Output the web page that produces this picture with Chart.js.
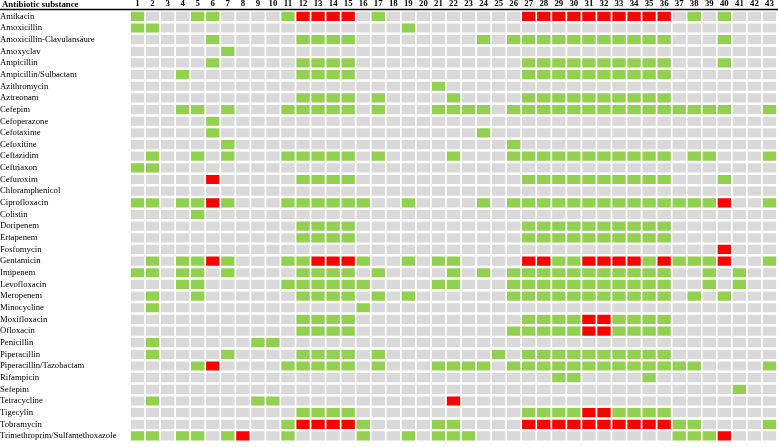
<!DOCTYPE html>
<html>
<head>
<meta charset="utf-8">
<script src="https://cdn.jsdelivr.net/npm/chart.js@4/dist/chart.umd.min.js"></script>
<style>
  html, body { margin: 0; padding: 0; background: #ffffff; }
  #wrap { width: 778px; height: 447px; position: relative; }
</style>
</head>
<body>
<div id="wrap"><canvas id="c" width="778" height="447"></canvas></div>
<script>
const headerTitle = 'Antibiotic substance';

const substances = [
  'Amikacin', 'Amoxicillin', 'Amoxicillin-Clavulansäure', 'Amoxyclav', 'Ampicillin',
  'Ampicillin/Sulbactam', 'Azithromycin', 'Aztreonam', 'Cefepim', 'Cefoperazone',
  'Cefotaxime', 'Cefoxitine', 'Ceftazidim', 'Ceftriaxon', 'Cefuroxim',
  'Chloramphenicol', 'Ciprofloxacin', 'Colistin', 'Doripenem', 'Ertapenem',
  'Fosfomycin', 'Gentamicin', 'Imipenem', 'Levofloxacin', 'Meropenem',
  'Minocycline', 'Moxifloxacin', 'Ofloxacin', 'Penicillin', 'Piperacillin',
  'Piperacillin/Tazobactam', 'Rifampicin', 'Sefepim', 'Tetracycline', 'Tigecylin',
  'Tobramycin', 'Trimethroprim/Sulfamethoxazole'
];

const columnLabels = ['1','2','3','4','5','6','7','8','9','10','11','12','13','14','15',
  '16','17','18','19','20','21','22','23','24','25','26','27','28','29','30',
  '31','32','33','34','35','36','37','38','39','40','41','42','43'];

// one string per substance, one character per column:
// '.' = grey cell, 'g' = green cell, 'r' = red cell ('|' separates groups of five columns)
const cellStatus = [
  'g...g|g....|grrrr|.g...|.....|.rrrr|rrrrr|r.g.g|...', // Amikacin
  'gg...|.....|.....|...g.|.....|.....|.....|.....|...', // Amoxicillin
  '.....|g....|.gggg|.....|...g.|ggggg|ggggg|g...g|...', // Amoxicillin-Clavulansäure
  '.....|.g...|.....|.....|.....|.....|.....|.....|...', // Amoxyclav
  '.....|g....|.gggg|.....|.....|.gggg|ggggg|g...g|...', // Ampicillin
  '...g.|.....|.gggg|.....|.....|.gggg|ggggg|g....|...', // Ampicillin/Sulbactam
  '.....|.....|.....|.....|g....|.....|.....|.....|...', // Azithromycin
  '.....|.....|.gggg|.g...|.g...|.gggg|ggggg|g....|...', // Aztreonam
  '...gg|.g...|ggggg|.g...|gggg.|ggggg|ggggg|ggggg|..g', // Cefepim
  '.....|g....|.....|.....|.....|.....|.....|.....|...', // Cefoperazone
  '.....|g....|.....|.....|...g.|.....|.....|.....|...', // Cefotaxime
  '.....|.g...|.....|.....|.....|g....|.....|.....|...', // Cefoxitine
  '.g..g|.g...|ggggg|.g...|.g...|ggggg|ggggg|g.gg.|..g', // Ceftazidim
  'gg...|.....|.....|.....|.....|.....|.....|.....|...', // Ceftriaxon
  '.....|r....|.gggg|.....|.....|.gggg|ggggg|g...g|...', // Cefuroxim
  '.....|.....|.....|.....|.....|.....|.....|.....|...', // Chloramphenicol
  'gg.gg|rg...|ggggg|g..g.|...g.|ggggg|ggggg|ggggr|..g', // Ciprofloxacin
  '....g|.....|.....|.....|.....|.....|.....|.....|...', // Colistin
  '.....|.....|.gggg|.....|.....|.gggg|ggggg|g....|...', // Doripenem
  '.....|.....|.gggg|.....|.....|.gggg|ggggg|g....|...', // Ertapenem
  '.....|.....|.....|.....|.....|.....|.....|....r|...', // Fosfomycin
  '.g.gg|rg...|ggrrr|g..g.|gg...|.rrgg|rrrrg|rgggr|..g', // Gentamicin
  'gg.gg|.g...|.gggg|.g...|.g.g.|ggggg|ggggg|g..g.|g..', // Imipenem
  '...gg|.....|ggggg|g....|gg...|ggggg|ggggg|g..g.|g..', // Levofloxacin
  '.g..g|.....|.gggg|.g.g.|.....|ggggg|ggggg|g.g.g|...', // Meropenem
  '.g...|.....|.....|g....|.....|.....|.....|.....|...', // Minocycline
  '.....|.....|.gggg|.....|.....|.gggg|rrggg|g....|...', // Moxifloxacin
  '.....|.....|.gggg|.....|.....|ggggg|rrggg|g....|...', // Ofloxacin
  '.g...|...gg|.....|.....|.....|.....|.....|.....|...', // Penicillin
  '.g...|.g...|.gggg|.g...|....g|.gggg|ggggg|g....|...', // Piperacillin
  '....g|r....|ggggg|.g...|gggg.|ggggg|ggggg|ggg..|..g', // Piperacillin/Tazobactam
  '.....|.....|.....|.....|.....|...gg|....g|.....|...', // Rifampicin
  '.....|.....|.....|.....|.....|.....|.....|.....|g..', // Sefepim
  '.g...|...gg|.....|.....|.r...|.....|.....|.....|...', // Tetracycline
  '.....|.....|.gggg|.....|.....|.gggg|rrggg|g....|...', // Tigecylin
  '.....|.....|grrrr|g....|gg...|.rrrr|rrrrr|rgg..|..g', // Tobramycin
  'gg.gg|.gr..|g....|g..g.|ggg..|.....|.....|.gggr|...'  // Trimethroprim/Sulfamethoxazole
];

const statusColors = { '.': '#D9D9D9', 'g': '#92D050', 'r': '#FF0000' };
const cellHalfHeight = 0.395;

const datasets = substances.map((name, rowIdx) => {
  const codes = cellStatus[rowIdx].replace(/\|/g, '').split('');
  return {
    label: name,
    data: columnLabels.map(() => [rowIdx - cellHalfHeight, rowIdx + cellHalfHeight]),
    backgroundColor: codes.map(c => statusColors[c]),
    borderWidth: 0,
    grouped: false,
    categoryPercentage: 1.0,
    barPercentage: 0.885
  };
});

const headerPlugin = {
  id: 'headerPlugin',
  afterDraw(chart) {
    const { ctx, chartArea } = chart;
    ctx.save();
    ctx.strokeStyle = '#000000';
    ctx.lineWidth = 1.5;
    ctx.beginPath();
    ctx.moveTo(0, chartArea.top - 0.9);
    ctx.lineTo(chart.width, chartArea.top - 0.9);
    ctx.stroke();
    ctx.fillStyle = '#000000';
    ctx.font = 'bold 8.8px "Liberation Serif"';
    ctx.textAlign = 'left';
    ctx.textBaseline = 'alphabetic';
    ctx.fillText(headerTitle, 2, chartArea.top - 3.2);
    ctx.restore();
  }
};

new Chart(document.getElementById('c'), {
  type: 'bar',
  data: { labels: columnLabels, datasets },
  plugins: [headerPlugin],
  options: {
    responsive: false,
    animation: false,
    events: [],
    layout: { padding: { left: 0, right: 1, top: 0, bottom: 0 } },
    plugins: { legend: { display: false }, tooltip: { enabled: false }, title: { display: false } },
    scales: {
      x: {
        type: 'category',
        position: 'top',
        offset: true,
        grid: { display: false, drawTicks: false },
        border: { display: false },
        ticks: {
          autoSkip: false, maxRotation: 0, minRotation: 0, padding: 1,
          color: '#000000',
          font: { family: 'Liberation Serif', size: 8.8, weight: 'bold' }
        },
        afterFit(scale) { scale.height = 10.5; }
      },
      y: {
        type: 'linear',
        min: -0.5,
        max: substances.length - 0.5,
        reverse: true,
        grid: { display: false, drawTicks: false },
        border: { display: false },
        afterBuildTicks(scale) { scale.ticks = substances.map((_, i) => ({ value: i })); },
        ticks: {
          autoSkip: false,
          crossAlign: 'far',
          padding: 0,
          color: '#000000',
          font: { family: 'Liberation Serif', size: 8.7 },
          callback: (value) => substances[value]
        },
        afterFit(scale) { scale.width = 130; }
      }
    }
  }
});
</script>
</body>
</html>
